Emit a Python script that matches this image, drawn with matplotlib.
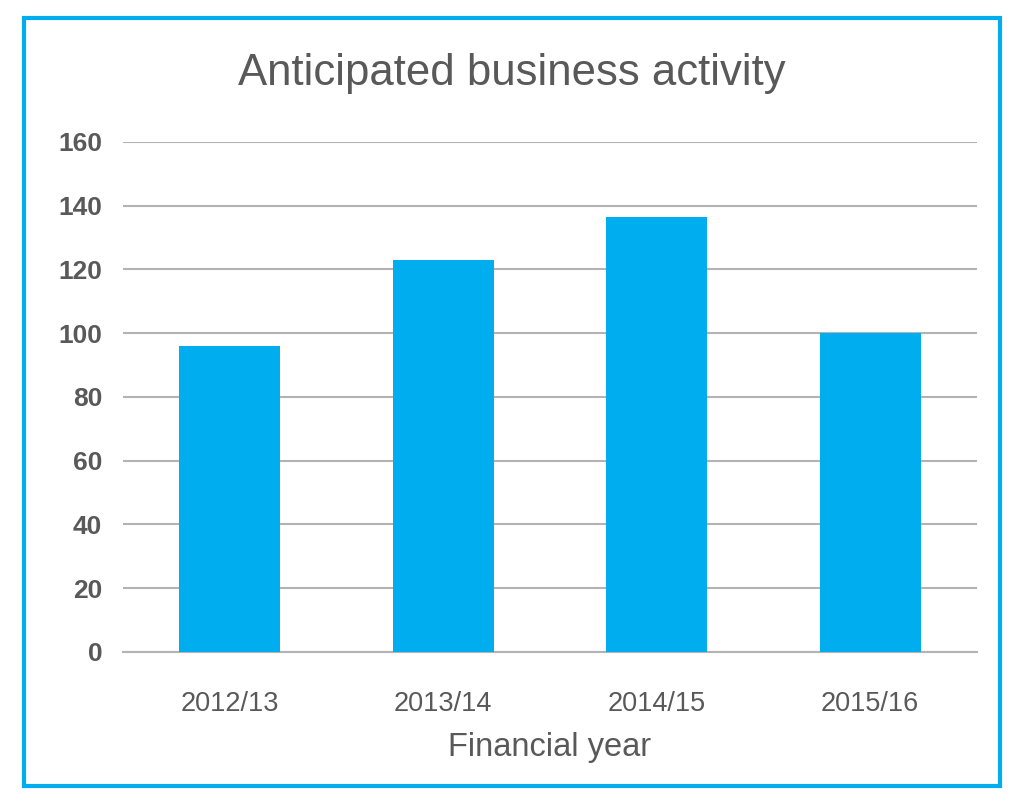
import matplotlib
matplotlib.use("Agg")
import matplotlib.pyplot as plt
from matplotlib.patches import Rectangle

years = ["2012/13", "2013/14", "2014/15", "2015/16"]
activity = [96, 123, 136.5, 100]
y_ticks = [0, 20, 40, 60, 80, 100, 120, 140, 160]

blue = "#00aeef"
grey_text = "#595959"

plt.rcParams["font.family"] = ["Liberation Sans", "DejaVu Sans"]

fig = plt.figure(figsize=(10.24, 8.1), dpi=100)
ax = fig.add_axes([0.1201, 0.1951, 0.834, 0.6296])

ax.bar(range(len(years)), activity, width=0.473, color=blue, zorder=3)
ax.set_xlim(-0.5, len(years) - 0.5)
ax.set_ylim(0, 160)
ax.set_yticks(y_ticks)
ax.set_xticks(range(len(years)))
ax.set_xticklabels(years)

ax.grid(axis="y", color="#b3b3b3", linewidth=1.5, zorder=0)
for s in ["top", "right", "left"]:
    ax.spines[s].set_visible(False)
ax.spines["bottom"].set_color("#b3b3b3")
ax.spines["bottom"].set_linewidth(1.5)
ax.tick_params(axis="both", length=0)
ax.tick_params(axis="y", pad=15, labelsize=19, labelcolor=grey_text)
ax.tick_params(axis="x", pad=28, labelsize=19.5, labelcolor=grey_text)
for lbl in ax.get_yticklabels():
    lbl.set_fontweight("bold")

ax.set_xlabel("Financial year", fontsize=23.5, color=grey_text, labelpad=11)
fig.text(0.5, 0.909, "Anticipated business activity", ha="center", va="center",
         fontsize=31.5, color=grey_text)

# cyan frame round the whole chart
fig.patches.append(Rectangle((23.5 / 1024, 1 - 785.5 / 810), 976 / 1024, 768 / 810,
                             transform=fig.transFigure, fill=False,
                             edgecolor=blue, linewidth=3))

fig.savefig("out.png", dpi=100)
